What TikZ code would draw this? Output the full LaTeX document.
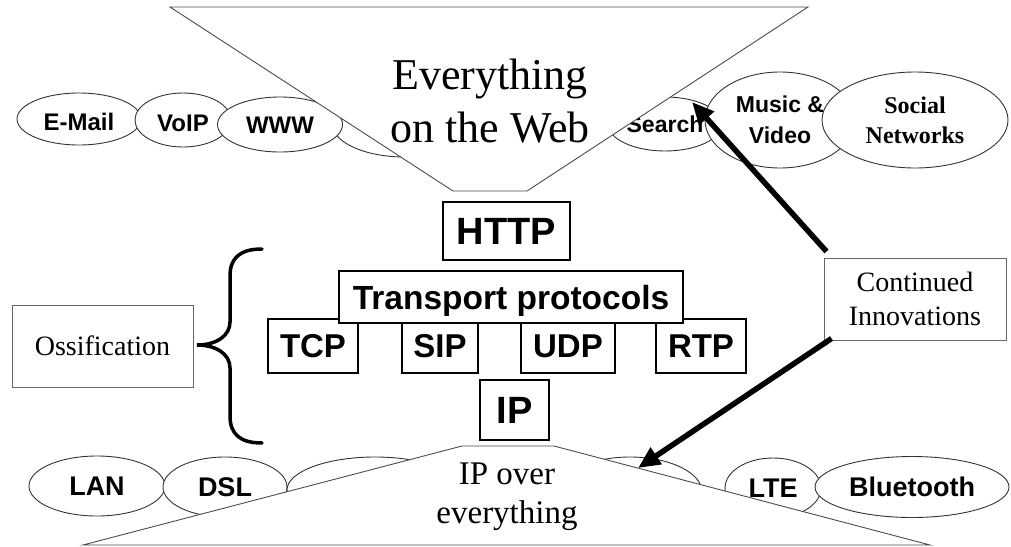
\documentclass[tikz,border=0pt]{standalone}
\usepackage{fontspec}
\setmainfont{Liberation Serif}
\setsansfont{Liberation Sans}
\usetikzlibrary{arrows.meta,calc,shapes.geometric}
\begin{document}
\begin{tikzpicture}[x=1pt,y=-1pt,
  ellbase/.style={ellipse,draw=black!80,line width=0.9pt,fill=white,inner sep=0pt},
  ell/.style={ellbase,text height=17.2pt,text depth=0pt,font=\sffamily\bfseries\fontsize{24}{29}\selectfont},
  ellb/.style={ellbase,text height=19.4pt,text depth=0pt,font=\sffamily\bfseries\fontsize{27}{32}\selectfont},
  proto/.style={rectangle,draw=black,line width=1.3pt,fill=white,inner sep=0pt,text height=23.7pt,text depth=0pt,font=\sffamily\bfseries\fontsize{33}{40}\selectfont},
  note/.style={rectangle,draw=black!60,line width=1pt,fill=white,inner sep=0pt,align=center,font=\fontsize{28}{33.5}\selectfont},
  trap/.style={draw=black!70,line width=0.9pt,fill=white},
  bigarrow/.style={line width=5.5pt,-{Triangle[length=22pt,width=19pt]}},
  bracestyle/.style={line width=3.5pt,line cap=round}]
\useasboundingbox (0,0) rectangle (1011,546);

% top ellipses
\node[ell,minimum width=124pt,minimum height=52pt,text height=23pt] (email) at (79,119) {E-Mail};
\node[ell,minimum width=96pt,minimum height=54pt,text height=22pt] (voip) at (183,120) {VoIP};
\node[ellbase,minimum width=144pt,minimum height=64pt] (hidtop) at (405,125) {};
\node[ell,minimum width=125pt,minimum height=55pt] (www) at (280,124.5) {WWW};
\node[ell,minimum width=114pt,minimum height=54pt,text height=16.5pt,font=\sffamily\bfseries\fontsize{23}{28}\selectfont] (search) at (665,124) {Search};

% top trapezoid
\draw[trap] (170,7) -- (808,7) -- (527,191) -- (453,191) -- cycle;
\node[font=\fontsize{44}{53}\selectfont,align=center,inner sep=0pt] (web) at (490,101) {Everything\\on the Web};

\node[ellbase,minimum width=150pt,minimum height=96pt,align=center,font=\sffamily\bfseries\fontsize{23}{31}\selectfont] (music) at (780,120) {Music \&\\Video};
\node[ellbase,minimum width=186pt,minimum height=96pt,align=center,font=\bfseries\fontsize{24}{30}\selectfont] (social) at (915,120) {Social\\Networks};

% protocol boxes
\node[proto,minimum width=90pt,minimum height=54pt] (tcp) at (313,346) {TCP};
\node[proto,minimum width=76pt,minimum height=54pt] (sip) at (440,346) {SIP};
\node[proto,minimum width=94pt,minimum height=54pt] (udp) at (568,346) {UDP};
\node[proto,minimum width=90pt,minimum height=54pt] (rtp) at (701,346) {RTP};
\node[proto,minimum width=344pt,minimum height=52pt,text height=24pt,font=\sffamily\bfseries\fontsize{33.5}{40}\selectfont] (transport) at (511,297) {Transport protocols};
\node[proto,minimum width=127pt,minimum height=58pt,text height=27.3pt,font=\sffamily\bfseries\fontsize{38}{45}\selectfont] (http) at (506.5,231) {HTTP};
\node[proto,minimum width=69pt,minimum height=60pt,text height=27.3pt,font=\sffamily\bfseries\fontsize{38}{45}\selectfont] (ip) at (514.5,410) {IP};

% notes
\node[note,minimum width=181pt,minimum height=82pt] (oss) at (102.5,346) {Ossification};
\node[note,minimum width=182pt,minimum height=82pt] (ci) at (915,299) {Continued\\Innovations};

% brace
\draw[bracestyle] (262,249) .. controls (240,249) and (230,258) .. (230,276) -- (230,322)
  .. controls (230,336) and (216,345) .. (197,345)
  .. controls (216,345) and (230,354) .. (230,368) -- (230,416)
  .. controls (230,434) and (240,443) .. (262,443);

% bottom ellipses
\node[ellb,minimum width=136pt,minimum height=60pt] (lan) at (97,486) {LAN};
\node[ellb,minimum width=124pt,minimum height=60pt] (dsl) at (225,487) {DSL};
\node[ellbase,minimum width=176pt,minimum height=66pt] (hidbl) at (375,490) {};
\node[ellbase,minimum width=144pt,minimum height=70pt] (hidbr) at (630,492) {};
\node[ellb,minimum width=96pt,minimum height=60pt] (lte) at (773,488) {LTE};
\node[ellb,minimum width=194pt,minimum height=61pt] (bt) at (912,487) {Bluetooth};

% bottom trapezoid
\draw[trap] (462,446) -- (554,446) -- (930,545) -- (83,545) -- cycle;
\node[font=\fontsize{33}{39}\selectfont,align=center,inner sep=0pt] (ipover) at (507,497) {IP over\\everything};

% arrows
\coordinate (t1) at (692,102);
\coordinate (t2) at (638,468);
\draw[bigarrow] ($(ci.north west)+(3,-6)$) -- (t1);
\draw[bigarrow] ($(ci.south west)+(8,-2)$) -- (t2);
\end{tikzpicture}
\end{document}
